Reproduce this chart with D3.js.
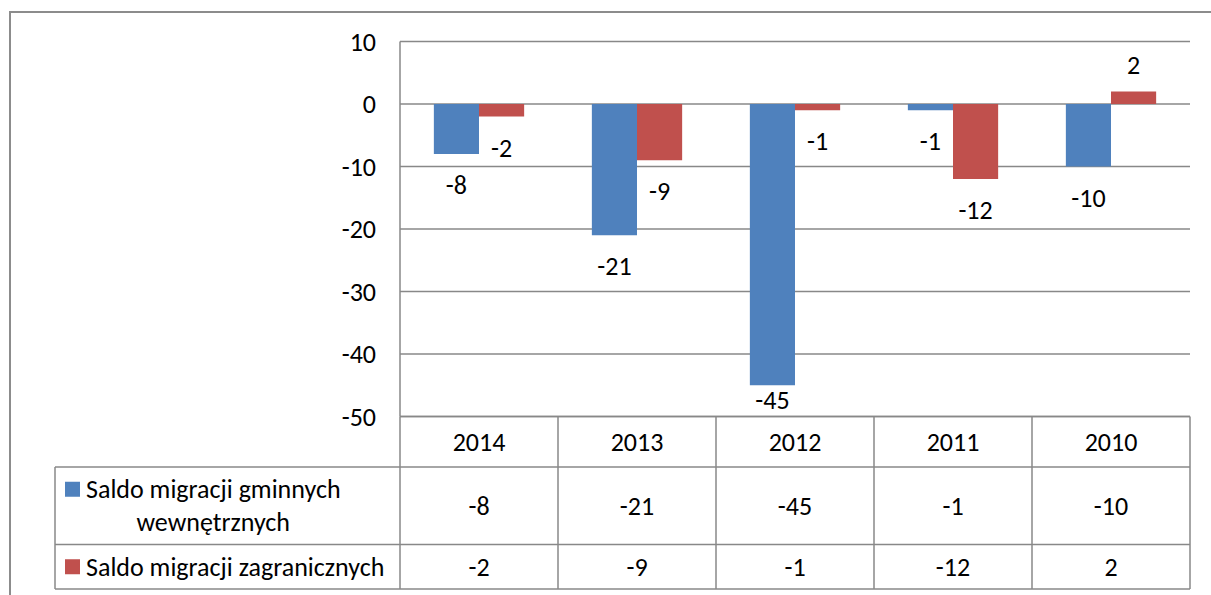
<!DOCTYPE html>
<html>
<head>
<meta charset="utf-8">
<script src="https://cdn.jsdelivr.net/npm/d3@7"></script>
<style>
  html, body { margin: 0; padding: 0; background: #fff; overflow: hidden; }
  svg { display: block; }
</style>
</head>
<body>
<svg id="chart" width="1211" height="595"></svg>
<script>
// data
var years = ["2014", "2013", "2012", "2011", "2010"];
var seriesNames = ["Saldo migracji gminnych wewnętrznych", "Saldo migracji zagranicznych"];
var legendLines = [["Saldo migracji gminnych", "wewnętrznych"], ["Saldo migracji zagranicznych"]];
var wewnetrzne = [-8, -21, -45, -1, -10];
var zagraniczne = [-2, -9, -1, -12, 2];
var yTicks = [10, 0, -10, -20, -30, -40, -50];
var colors = ["#4f81bd", "#c0504d"];

var values = [wewnetrzne, zagraniczne];

var font = "Carlito, Lato, sans-serif",
    fontSize = 26,
    gridColor = "#888888";

var svg = d3.select("#chart");

var plot = { left: 400, right: 1190, top: 41.5, bottom: 416.5 },
    table = { left: 55, rows: [416.5, 467, 544.5, 589] };

// outer chart border (runs past the window on the right and bottom)
svg.append("rect")
    .attr("x", 10).attr("y", 12)
    .attr("width", 1260).attr("height", 700)
    .attr("fill", "none")
    .attr("stroke", "#8c8c8c")
    .attr("stroke-width", 2);

var x = d3.scaleBand().domain(years).range([plot.left, plot.right]).paddingInner(0).paddingOuter(0);
var xInner = d3.scaleBand().domain(d3.range(values.length))
    .range([0, x.bandwidth()]).paddingInner(0).paddingOuter(0.75);
var y = d3.scaleLinear().domain([-50, 10]).range([plot.bottom, plot.top]);

// gridlines
svg.append("g").attr("class", "grid")
    .selectAll("line").data(yTicks).enter()
    .append("line")
    .attr("x1", plot.left).attr("x2", plot.right)
    .attr("y1", d => y(d)).attr("y2", d => y(d))
    .attr("stroke", gridColor).attr("stroke-width", 1.5);

// y axis line
svg.append("line")
    .attr("x1", plot.left).attr("x2", plot.left)
    .attr("y1", plot.top).attr("y2", plot.bottom)
    .attr("stroke", gridColor).attr("stroke-width", 1.5);

// y tick labels
svg.append("g").attr("class", "y-labels")
    .selectAll("text").data(yTicks).enter()
    .append("text")
    .attr("x", 376).attr("y", d => y(d))
    .attr("dy", "0.35em")
    .attr("text-anchor", "end")
    .style("font", fontSize + "px " + font)
    .attr("fill", "#000")
    .text(d => d);

// bars
var flat = [];
values.forEach(function (arr, s) {
    arr.forEach(function (v, i) { flat.push({ s: s, year: years[i], v: v }); });
});

svg.append("g").attr("class", "bars")
    .selectAll("rect").data(flat).enter()
    .append("rect")
    .attr("x", d => x(d.year) + xInner(d.s))
    .attr("width", xInner.bandwidth())
    .attr("y", d => y(Math.max(0, d.v)))
    .attr("height", d => Math.abs(y(d.v) - y(0)))
    .attr("fill", d => colors[d.s]);

// data labels, outside end, kept inside the plot area
svg.append("g").attr("class", "labels")
    .selectAll("text").data(flat).enter()
    .append("text")
    .attr("x", d => x(d.year) + xInner(d.s) + xInner.bandwidth() / 2)
    .attr("y", function (d) {
        if (d.v >= 0) return y(d.v) - 27;
        return Math.min(y(d.v) + 31, plot.bottom - 17);
    })
    .attr("dy", "0.35em")
    .attr("text-anchor", "middle")
    .style("font", fontSize + "px " + font)
    .attr("fill", "#000")
    .text(d => d.v);

// data table
var tg = svg.append("g").attr("class", "data-table");

function hline(x1, x2, yy) {
    tg.append("line").attr("x1", x1).attr("x2", x2).attr("y1", yy).attr("y2", yy)
        .attr("stroke", gridColor).attr("stroke-width", 1.5);
}
function vline(xx, y1, y2) {
    tg.append("line").attr("x1", xx).attr("x2", xx).attr("y1", y1).attr("y2", y2)
        .attr("stroke", gridColor).attr("stroke-width", 1.5);
}

var r = table.rows;
hline(plot.left, plot.right, r[0]);
hline(table.left, plot.right, r[1]);
hline(table.left, plot.right, r[2]);
hline(table.left, plot.right, r[3]);
vline(table.left, r[1], r[3]);
vline(plot.left, r[0], r[3]);
years.forEach(function (yr) { vline(x(yr) + x.bandwidth(), r[0], r[3]); });

// header row
tg.selectAll("text.year").data(years).enter()
    .append("text").attr("class", "year")
    .attr("x", d => x(d) + x.bandwidth() / 2)
    .attr("y", (r[0] + r[1]) / 2)
    .attr("dy", "0.35em")
    .attr("text-anchor", "middle")
    .style("font", fontSize + "px " + font)
    .text(d => d);

// value rows
values.forEach(function (arr, s) {
    var cy = (r[s + 1] + r[s + 2]) / 2;
    tg.selectAll("text.val" + s).data(arr).enter()
        .append("text").attr("class", "val" + s)
        .attr("x", (d, i) => x(years[i]) + x.bandwidth() / 2)
        .attr("y", cy)
        .attr("dy", "0.35em")
        .attr("text-anchor", "middle")
        .style("font", fontSize + "px " + font)
        .text(d => d);

    // legend key + name
    var lines = legendLines[s],
        lh = 33,
        textX = 86,
        firstY = cy - (lines.length - 1) * lh / 2;

    tg.append("rect")
        .attr("x", 65).attr("y", firstY - 7.5)
        .attr("width", 15).attr("height", 15)
        .attr("fill", colors[s]);

    var first = tg.append("text")
        .attr("x", textX).attr("y", firstY)
        .attr("dy", "0.35em")
        .style("font", fontSize + "px " + font)
        .text(lines[0]);
    var w = first.node().getComputedTextLength();
    for (var k = 1; k < lines.length; k++) {
        tg.append("text")
            .attr("x", textX + w / 2).attr("y", firstY + k * lh)
            .attr("dy", "0.35em")
            .attr("text-anchor", "middle")
            .style("font", fontSize + "px " + font)
            .text(lines[k]);
    }
});
</script>
</body>
</html>
